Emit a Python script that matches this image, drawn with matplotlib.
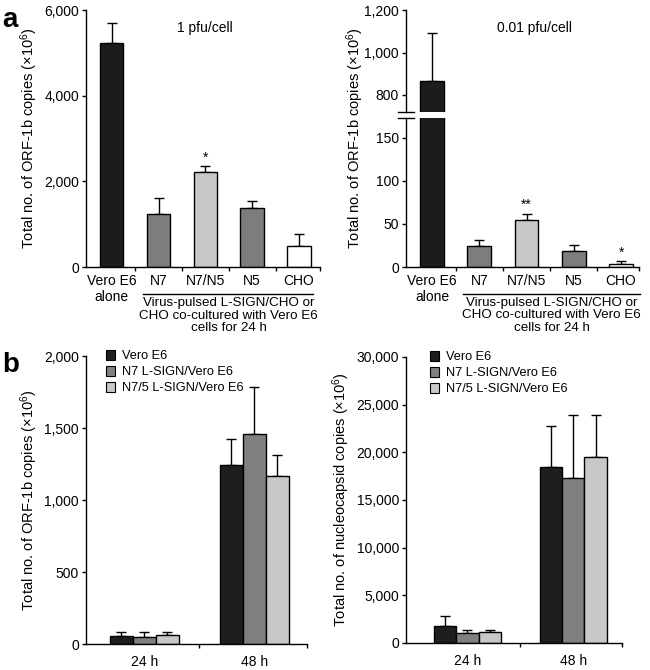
import numpy as np
import matplotlib
matplotlib.use('Agg')
import matplotlib.pyplot as plt
from matplotlib.patches import Patch
from matplotlib.ticker import FuncFormatter
import matplotlib.transforms as mtransforms

plt.rcParams['font.family'] = ['Liberation Sans', 'DejaVu Sans']
plt.rcParams['mathtext.default'] = 'regular'
plt.rcParams['font.size'] = 10

# ---- panel a data ----
cats_a = ['Vero E6\nalone', 'N7', 'N7/N5', 'N5', 'CHO']
colors_a = ['#1c1c1c', '#7d7d7d', '#c8c8c8', '#7d7d7d', '#ffffff']
a1_vals = [5230, 1240, 2220, 1370, 490]
a1_err_top = [5700, 1610, 2350, 1550, 770]
a1_stars = ['', '', '*', '', '']
a2_vals = [867, 24, 55, 18, 3.5]
a2_err_top = [1090, 31, 62, 25, 7]
a2_stars = ['', '', '**', '', '*']

# ---- panel b data ----
times = ['24 h', '48 h']
series = ['Vero E6', 'N7 L-SIGN/Vero E6', 'N7/5 L-SIGN/Vero E6']
colors_b = ['#1e1e1e', '#808080', '#c8c8c8']
orf_vals = [[57, 1245], [48, 1455], [60, 1170]]
orf_err_top = [[82, 1425], [80, 1785], [86, 1310]]
nuc_vals = [[1750, 18450], [1050, 17300], [1150, 19550]]
nuc_err_top = [[2800, 22800], [1400, 23900], [1400, 23900]]

ylab_orf = 'Total no. of ORF-1b copies (×10$^{6}$)'
ylab_nuc = 'Total no. of nucleocapsid copies (×10$^{6}$)'
group_text = 'Virus-pulsed L-SIGN/CHO or\nCHO co-cultured with Vero E6\ncells for 24 h'

FS = 10        # tick / annotation text
FS_GRP = 9.6   # group caption under panel a
FS_LEG = 9.2
FS_LAB = 10.5  # axis labels
comma = FuncFormatter(lambda v, p: f'{v:,.0f}')

fig = plt.figure(figsize=(6.5, 6.7), dpi=100)
W, H = 650, 670


def px_axes(x0, y0, x1, y1):
    return fig.add_axes([x0 / W, 1 - y1 / H, (x1 - x0) / W, (y1 - y0) / H])


def style(ax, top=False, bottom=True):
    ax.spines['right'].set_visible(False)
    ax.spines['top'].set_visible(top)
    ax.spines['bottom'].set_visible(bottom)
    for s in ax.spines.values():
        s.set_linewidth(1)
    ax.tick_params(axis='y', direction='out', length=3, width=1, labelsize=FS, pad=2)
    ax.yaxis.set_major_formatter(comma)


def bars_a(ax, vals, err_top, stars, xmax):
    x = np.arange(len(cats_a))
    vals = np.array(vals, float)
    err = np.array(err_top, float) - vals
    ax.errorbar(x, vals, yerr=[np.zeros_like(err), err], fmt='none',
                ecolor='black', elinewidth=1, capsize=3.5, capthick=1, zorder=1)
    ax.bar(x, vals, width=0.5, color=colors_a, edgecolor='black', linewidth=1, zorder=2)
    for xi, top, s in zip(x, err_top, stars):
        if s:
            ax.annotate(s, (xi, top), xytext=(0, 1), textcoords='offset points',
                        ha='center', va='bottom', fontsize=FS)
    ax.set_xlim(-0.55, xmax)
    return x


# ---- a, left ----
ax = px_axes(86, 10, 320, 267)
style(ax)
x = bars_a(ax, a1_vals, a1_err_top, a1_stars, 4.45)
ax.set_ylim(0, 6000)
ax.set_yticks([0, 2000, 4000, 6000])
ax.set_xticks(x, cats_a)
ax.set_xticks(np.append(x[:-1] + 0.5, 4.45), minor=True)
ax.tick_params(axis='x', which='major', length=0, pad=5, labelsize=FS)
ax.tick_params(axis='x', which='minor', direction='out', length=3, width=1)
ax.set_ylabel(ylab_orf, fontsize=FS_LAB, labelpad=3)
ax.text(0.51, 0.93, '1 pfu/cell', transform=ax.transAxes, ha='center', va='center', fontsize=FS)
tr = mtransforms.blended_transform_factory(ax.transData, ax.transAxes)
ax.plot([0.67, 4.31], [-0.105, -0.105], color='black', lw=1, transform=tr, clip_on=False)
ax.text(2.5, -0.118, group_text, transform=tr, ha='center', va='top', fontsize=FS_GRP,
        linespacing=1.05)
fig.text(0.004, 0.99, 'a', fontsize=20, fontweight='bold', va='top', ha='left')

# ---- a, right (broken axis) ----
lo = px_axes(406, 118, 639, 267)
hi = px_axes(406, 10, 639, 112)
style(lo, top=False)
style(hi, bottom=False)
for a in (lo, hi):
    bars_a(a, a2_vals, a2_err_top, a2_stars, 4.38)
lo.set_ylim(0, 173)
lo.set_yticks([0, 50, 100, 150])
hi.set_ylim(720, 1200)
hi.set_yticks([800, 1000, 1200])
hi.set_xticks([])
lo.set_xticks(x, cats_a)
lo.set_xticks(np.append(x[:-1] + 0.5, 4.38), minor=True)
lo.tick_params(axis='x', which='major', length=0, pad=5, labelsize=FS)
lo.tick_params(axis='x', which='minor', direction='out', length=3, width=1)
for yb, a in ((1.0, lo), (0.0, hi)):
    a.plot([-0.035, 0.035], [yb, yb], color='black', lw=1, transform=a.transAxes, clip_on=False)
hi.text(0.55, 0.82, '0.01 pfu/cell', transform=hi.transAxes, ha='center', va='center', fontsize=FS)
fig.text(355 / W, 1 - 138.5 / H, ylab_orf, rotation=90, ha='center', va='center', fontsize=FS_LAB)
tr = mtransforms.blended_transform_factory(lo.transData, lo.transAxes)
lo.plot([0.66, 4.4], [-0.181, -0.181], color='black', lw=1, transform=tr, clip_on=False)
lo.text(2.53, -0.2, group_text, transform=tr, ha='center', va='top', fontsize=FS_GRP,
        linespacing=1.05)


# ---- panel b ----
def bars_b(ax, vals, err_top, xlim, legend_x):
    x = np.arange(len(times))
    w = 0.21
    for i, (v, e, c) in enumerate(zip(vals, err_top, colors_b)):
        v = np.array(v, float)
        e = np.array(e, float) - v
        xs = x + (i - 1) * w
        ax.errorbar(xs, v, yerr=[np.zeros_like(e), e], fmt='none', ecolor='black',
                    elinewidth=1, capsize=3.5, capthick=1, zorder=1)
        ax.bar(xs, v, width=w, color=c, edgecolor='black', linewidth=1, zorder=2)
    ax.set_xlim(*xlim)
    ax.set_xticks(x, times)
    ax.set_xticks([0.5, xlim[1]], minor=True)
    ax.tick_params(axis='x', which='major', length=0, pad=8, labelsize=FS)
    ax.tick_params(axis='x', which='minor', direction='out', length=3, width=1)
    handles = [Patch(facecolor=c, edgecolor='black', linewidth=0.8) for c in colors_b]
    ax.legend(handles, series, loc='upper left', frameon=False, fontsize=FS_LEG,
              bbox_to_anchor=(legend_x, 1.02),
              handlelength=0.75, handleheight=0.75, handletextpad=0.5,
              labelspacing=0.3, borderaxespad=0, borderpad=0)


ax = px_axes(86, 356, 307, 644)
style(ax)
bars_b(ax, orf_vals, orf_err_top, (-0.53, 1.48), 0.09)
ax.set_ylim(0, 2000)
ax.set_yticks([0, 500, 1000, 1500, 2000])
ax.set_ylabel(ylab_orf, fontsize=FS_LAB, labelpad=3)
fig.text(0.004, 1 - 352 / H, 'b', fontsize=20, fontweight='bold', va='top', ha='left')

ax = px_axes(406, 357, 622, 643)
style(ax)
bars_b(ax, nuc_vals, nuc_err_top, (-0.58, 1.46), 0.11)
ax.set_ylim(0, 30000)
ax.set_yticks(np.arange(0, 30001, 5000))
ax.set_ylabel(ylab_nuc, fontsize=FS_LAB, labelpad=3)

fig.savefig('out.png', dpi=100)
